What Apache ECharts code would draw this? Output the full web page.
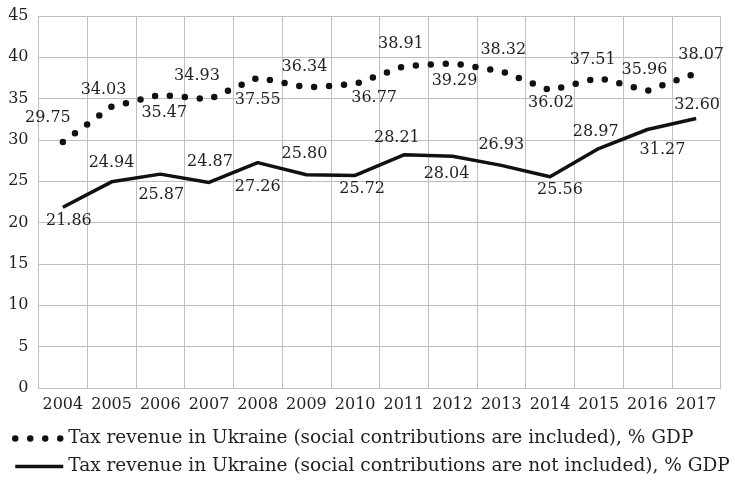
<!DOCTYPE html>
<html><head><meta charset="utf-8">
<script src="https://cdn.jsdelivr.net/npm/echarts@6/dist/echarts.min.js"></script>
<style>html,body{margin:0;padding:0;background:#fff}#c{width:735px;height:490px}</style>
</head><body><div id="c"></div>
<script>
const years = ['2004','2005','2006','2007','2008','2009','2010','2011','2012','2013','2014','2015','2016','2017'];
const included = [29.75, 34.03, 35.47, 34.93, 37.55, 36.34, 36.77, 38.91, 39.29, 38.32, 36.02, 37.51, 35.96, 38.07];
const notIncluded = [21.86, 24.94, 25.87, 24.87, 27.26, 25.80, 25.72, 28.21, 28.04, 26.93, 25.56, 28.97, 31.27, 32.60];
const seriesNames = [
  'Tax revenue in Ukraine (social contributions are included), % GDP',
  'Tax revenue in Ukraine (social contributions are not included), % GDP'
];
// label placement relative to each point (dx, dy)
const includedLabelOffsets = [[-15,-24],[-8,-17],[4,18],[-12,-23],[0,22],[-2,-21],[19,14],[-3,-23],[2,18],[2,-21],[1,13],[-6,-18],[-3,-21],[5,-18]];
const notIncludedLabelOffsets = [[6,14],[0,-19],[1,21],[1,-21],[0,24],[-2,-21],[7,13],[-7,-17],[-6,18],[0,-21],[10,13],[-3,-17],[15,20],[1,-14]];

const FONT = 'DejaVu Serif';
const TXT = '#231f20';
const DOTS = { color: '#111', width: 6.5, type: [0, 15], cap: 'round' };
const SOLID = { color: '#111', width: 3.5, type: 'solid', cap: 'butt' };

function labelData(vals, offs) {
  return vals.map((v, i) => ({ value: v, label: { offset: offs[i] } }));
}
const labelCommon = {
  show: true, position: 'inside', color: TXT, fontFamily: FONT, fontSize: 16,
  textBorderWidth: 0, textBorderColor: 'transparent', opacity: 1,
  formatter: p => p.value.toFixed(2)
};

const chart = echarts.init(document.getElementById('c'), null, { renderer: 'canvas' });
chart.setOption({
  animation: false,
  backgroundColor: '#fff',
  grid: { left: 38.5, right: 14.5, top: 16, bottom: 102, containLabel: false },
  xAxis: {
    type: 'category', data: years, boundaryGap: true,
    axisLine: { show: true, lineStyle: { color: '#bfbfbf', width: 1 } },
    axisTick: { show: false },
    axisLabel: { interval: 0, margin: 9, color: TXT, fontFamily: FONT, fontSize: 16 },
    splitLine: { show: true, interval: 0, lineStyle: { color: '#bfbfbf', width: 1 } }
  },
  yAxis: {
    type: 'value', min: 0, max: 45, interval: 5,
    axisLine: { show: false }, axisTick: { show: false },
    axisLabel: { margin: 10, color: TXT, fontFamily: FONT, fontSize: 16 },
    splitLine: { show: true, lineStyle: { color: '#bfbfbf', width: 1 } }
  },
  legend: {
    orient: 'vertical', left: 7, top: 424, height: 66, itemWidth: 48, itemHeight: 14, itemGap: 9,
    itemStyle: { opacity: 0 },
    data: [
      { name: seriesNames[0], lineStyle: DOTS },
      { name: seriesNames[1], lineStyle: SOLID }
    ],
    textStyle: { color: TXT, fontFamily: FONT, fontSize: 18.5 }
  },
  series: [
    {
      name: seriesNames[0], type: 'line', data: included, symbol: 'none', z: 3,
      lineStyle: DOTS, itemStyle: { color: '#111' }
    },
    {
      name: seriesNames[1], type: 'line', data: notIncluded, symbol: 'none', z: 3,
      lineStyle: SOLID, itemStyle: { color: '#111' }
    },
    {
      name: 'lbl1', type: 'scatter', data: labelData(included, includedLabelOffsets),
      symbolSize: 0, label: labelCommon, silent: true, z: 4
    },
    {
      name: 'lbl2', type: 'scatter', data: labelData(notIncluded, notIncludedLabelOffsets),
      symbolSize: 0, label: labelCommon, silent: true, z: 4
    }
  ]
});
</script></body></html>
